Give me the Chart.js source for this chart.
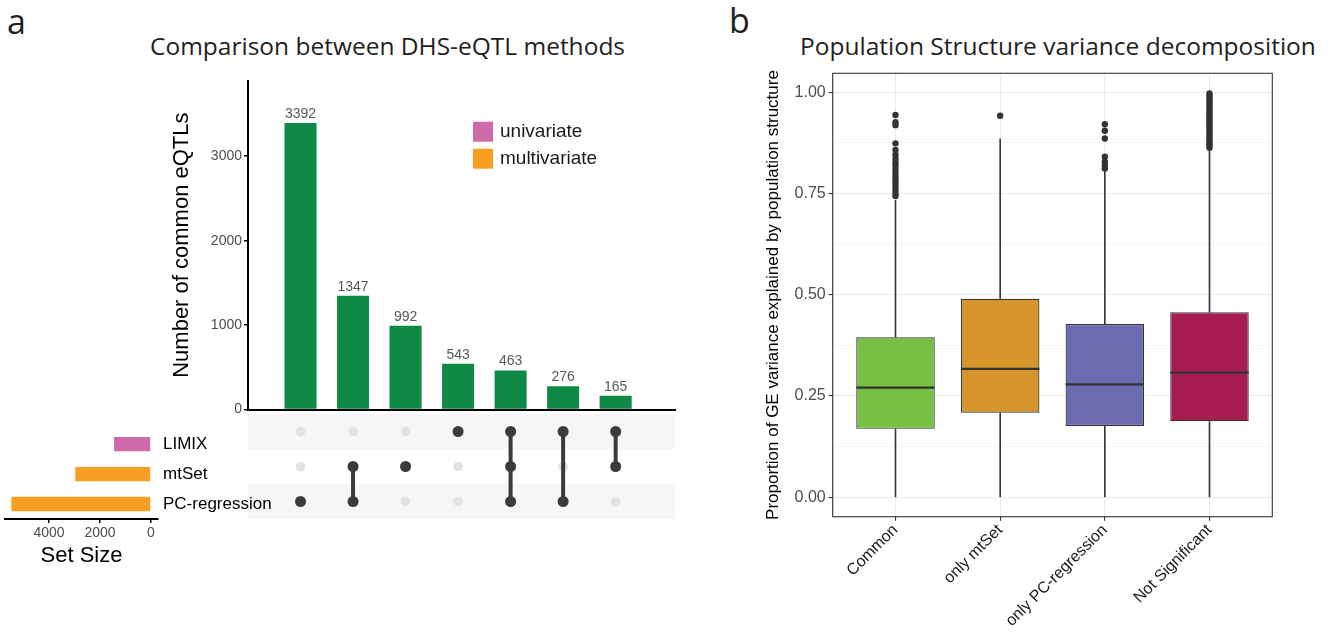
<!DOCTYPE html>
<html>
<head>
<meta charset="utf-8">
<title>DHS-eQTL methods</title>
<script src="https://cdn.jsdelivr.net/npm/chart.js@4.4.1/dist/chart.umd.min.js"></script>
<style>
  html, body { margin: 0; padding: 0; background: #fff; }
  body { width: 1332px; height: 633px; position: relative; overflow: hidden; }
  canvas { position: absolute; }
  .txt { position: absolute; font-family: "Open Sans", sans-serif; color: #231f20; line-height: 1; white-space: nowrap; }
</style>
</head>
<body>
<div class="txt" style="left:7px;top:4px;font-size:34px">a</div>
<div class="txt" style="left:150px;top:34px;font-size:24.5px">Comparison between DHS-eQTL methods</div>
<div class="txt" style="left:729px;top:3px;font-size:34px">b</div>
<div class="txt" style="left:800px;top:34px;font-size:24.5px">Population Structure variance decomposition</div>

<canvas id="barChart"  width="580" height="390" style="left:100px;top:30px"></canvas>
<canvas id="matChart"  width="427" height="105" style="left:248px;top:414px"></canvas>
<canvas id="sizeChart" width="290" height="156" style="left:0;top:414px"></canvas>
<canvas id="boxChart"  width="572" height="573" style="left:760px;top:60px"></canvas>

<script>
/* ---------- panel a : upset ---------- */
const SET_NAMES  = ['LIMIX', 'mtSet', 'PC-regression'];
const SET_SIZES  = [1447, 2967, 5478];
const SET_TYPE   = ['univariate', 'multivariate', 'multivariate'];
const TYPE_NAMES = ['univariate', 'multivariate'];
const TYPE_COLORS = { univariate: '#cc6aaa', multivariate: '#f79f22' };

const COMBO_SETS = [
  ['PC-regression'],
  ['mtSet', 'PC-regression'],
  ['mtSet'],
  ['LIMIX'],
  ['LIMIX', 'mtSet', 'PC-regression'],
  ['LIMIX', 'PC-regression'],
  ['LIMIX', 'mtSet'],
];
const COMBO_COUNTS = [3392, 1347, 992, 543, 463, 276, 165];
const COUNT_TICKS  = [0, 1000, 2000, 3000];
const SIZE_TICKS   = [0, 2000, 4000];

/* ---------- panel b : boxplots ---------- */
const BOX_CATS   = ['Common', 'only mtSet', 'only PC-regression', 'Not Significant'];
const BOX_COLORS = ['#76c043', '#d6952b', '#6a6bb1', '#a81d4f'];
const BOX_LO  = [0, 0, 0, 0];
const BOX_Q1  = [0.169, 0.209, 0.176, 0.188];
const BOX_MED = [0.271, 0.317, 0.279, 0.308];
const BOX_Q3  = [0.395, 0.490, 0.428, 0.457];
const BOX_HI  = [0.734, 0.886, 0.806, 0.860];
const OUT_COMMON = [0.944, 0.926, 0.919, 0.874, 0.858, 0.846, 0.836, 0.827, 0.819, 0.811, 0.802,
                    0.793, 0.785, 0.776, 0.768, 0.759, 0.750, 0.744];
const OUT_MTSET  = [0.942];
const OUT_PCREG  = [0.921, 0.905, 0.886, 0.841, 0.829, 0.820, 0.812];
const OUT_NOTSIG = [0.997, 0.992, 0.987, 0.981, 0.976, 0.970, 0.964, 0.959, 0.953, 0.947, 0.942,
                    0.936, 0.930, 0.925, 0.919, 0.913, 0.907, 0.902, 0.896, 0.890, 0.884, 0.879,
                    0.873, 0.868, 0.863];
const PROP_TICKS = [0, 0.25, 0.5, 0.75, 1];

const FONT = '"Liberation Sans", Arial, Helvetica, sans-serif';
Chart.defaults.font.family = FONT;
Chart.defaults.animation = false;

const noPlugins = { legend: { display: false }, tooltip: { enabled: false } };
const comboX = COMBO_COUNTS.map((_, i) => i + 1);
const setTicks = arr => s => { s.ticks = arr.map(v => ({ value: v })); };
const plain = v => String(v);

// value labels above the intersection bars + type legend
const barLabels = {
  id: 'barLabels',
  afterDatasetsDraw(chart) {
    const { ctx, chartArea } = chart;
    ctx.save();
    ctx.font = '14px ' + FONT;
    ctx.fillStyle = '#595959';
    ctx.textAlign = 'center';
    chart.getDatasetMeta(0).data.forEach((bar, i) => {
      ctx.fillText(COMBO_COUNTS[i], bar.x, bar.y - 5);
    });
    ctx.textAlign = 'left';
    ctx.textBaseline = 'middle';
    ctx.font = '19px ' + FONT;
    TYPE_NAMES.forEach((name, i) => {
      const x = chartArea.left + 225, y = chartArea.top + 41 + i * 27;
      ctx.fillStyle = TYPE_COLORS[name];
      ctx.fillRect(x, y, 20, 20);
      ctx.fillStyle = '#1a1a1a';
      ctx.fillText(name, x + 27, y + 10);
    });
    ctx.restore();
  }
};

new Chart(document.getElementById('barChart'), {
  type: 'bar',
  data: {
    datasets: [{
      data: COMBO_COUNTS.map((v, i) => ({ x: comboX[i], y: v })),
      backgroundColor: '#0f8a46',
      barPercentage: 0.61,
      categoryPercentage: 1,
    }]
  },
  options: {
    responsive: false,
    layout: { autoPadding: false, padding: { top: 50.7, right: 5, bottom: 8.3, left: 0 } },
    plugins: noPlugins,
    scales: {
      x: {
        type: 'linear', min: 0, max: 8.13, offset: false,
        afterBuildTicks: setTicks(comboX),
        grid: { display: false, offset: false },
        ticks: { display: false },
        border: { color: '#000', width: 2 },
        afterFit: s => { s.height = 0; },
      },
      y: {
        min: 0, max: 3894,
        afterBuildTicks: setTicks(COUNT_TICKS),
        grid: { drawOnChartArea: false, tickLength: 4, color: '#000', lineWidth: 1.5 },
        border: { color: '#000', width: 2 },
        ticks: { color: '#4d4d4d', font: { size: 14 }, padding: 2, callback: plain },
        title: { display: true, text: 'Number of common eQTLs', color: '#000',
                 font: { size: 22 }, padding: { top: 69, bottom: 0 } },
        afterFit: s => { s.width = 148; },
      }
    }
  },
  plugins: [barLabels]
});

// intersection matrix
const onDots = [], offDots = [];
COMBO_SETS.forEach((sets, c) => {
  SET_NAMES.forEach((name, r) => {
    (sets.includes(name) ? onDots : offDots).push({ x: comboX[c], y: r + 1 });
  });
});
const links = COMBO_SETS.map((sets, c) => {
  const rows = sets.map(s => SET_NAMES.indexOf(s) + 1);
  if (rows.length < 2) return null;
  return {
    data: [{ x: comboX[c], y: Math.min(...rows) }, { x: comboX[c], y: Math.max(...rows) }],
    showLine: true, borderColor: '#3b3b3b', borderWidth: 4, pointRadius: 0,
  };
}).filter(Boolean);

const rowShade = {
  id: 'rowShade',
  beforeDatasetsDraw(chart) {
    const { ctx, chartArea: a, scales: { y } } = chart;
    ctx.save();
    ctx.fillStyle = '#f6f6f6';
    SET_NAMES.forEach((_, r) => {
      if (r % 2) return;
      const t = y.getPixelForValue(r + 0.5), b = y.getPixelForValue(r + 1.5);
      ctx.fillRect(a.left, Math.min(t, b), a.width, Math.abs(b - t));
    });
    ctx.restore();
  }
};

new Chart(document.getElementById('matChart'), {
  type: 'scatter',
  data: {
    datasets: [
      { data: onDots, pointRadius: 5.5, backgroundColor: '#3b3b3b', borderWidth: 0 },
      ...links,
      { data: offDots, pointRadius: 4.8, backgroundColor: '#e2e2e2', borderWidth: 0 },
    ]
  },
  options: {
    responsive: false,
    layout: { autoPadding: false, padding: 0 },
    plugins: noPlugins,
    scales: {
      x: { type: 'linear', min: 0, max: 8.13, display: false },
      y: { type: 'linear', min: 0.5, max: 3.5, reverse: true, display: false },
    }
  },
  plugins: [rowShade]
});

// set size bars (left), drawn above the matrix so long labels stay visible
new Chart(document.getElementById('sizeChart'), {
  type: 'bar',
  data: {
    labels: SET_NAMES,
    datasets: [{
      data: SET_SIZES,
      backgroundColor: SET_TYPE.map(t => TYPE_COLORS[t]),
      barPercentage: 0.48,
      categoryPercentage: 1,
    }]
  },
  options: {
    indexAxis: 'y',
    responsive: false,
    layout: { autoPadding: false, padding: { top: 0, right: 0, bottom: 0, left: 5 } },
    plugins: noPlugins,
    scales: {
      x: {
        reverse: true, min: -275, max: 5725,
        afterBuildTicks: setTicks(SIZE_TICKS),
        grid: { drawOnChartArea: false, tickLength: 4, color: '#000', lineWidth: 1.5 },
        border: { color: '#000', width: 2 },
        ticks: { color: '#4d4d4d', font: { size: 14 }, padding: 2, callback: plain },
        title: { display: true, text: 'Set Size', color: '#000', font: { size: 22 },
                 padding: { top: 0, bottom: 1 } },
        afterFit: s => { s.height = 51; },
      },
      y: {
        position: 'right',
        grid: { display: false, drawTicks: false, offset: false },
        border: { display: false },
        ticks: { color: '#000', font: { size: 17 }, padding: 5 },
        afterFit: s => { s.width = 132; },
      }
    }
  }
});

/* ---------- panel b ---------- */
const isMajor = v => Math.abs(v * 4 - Math.round(v * 4)) < 1e-9;
const propGrid = [];
PROP_TICKS.forEach((v, i) => {
  propGrid.push(v);
  if (i < PROP_TICKS.length - 1) propGrid.push((v + PROP_TICKS[i + 1]) / 2);
});
const outliers = [OUT_COMMON, OUT_MTSET, OUT_PCREG, OUT_NOTSIG]
  .flatMap((arr, i) => arr.map(v => ({ x: i + 1, y: v })));

const boxExtras = {
  id: 'boxExtras',
  afterDatasetsDraw(chart) {
    const { ctx, chartArea: a, scales: { y } } = chart;
    ctx.save();
    ctx.strokeStyle = '#333';
    chart.getDatasetMeta(0).data.forEach((bar, i) => {
      ctx.lineWidth = 1.6;
      ctx.beginPath();
      ctx.moveTo(bar.x, y.getPixelForValue(BOX_Q3[i]));
      ctx.lineTo(bar.x, y.getPixelForValue(BOX_HI[i]));
      ctx.moveTo(bar.x, y.getPixelForValue(BOX_Q1[i]));
      ctx.lineTo(bar.x, y.getPixelForValue(BOX_LO[i]));
      ctx.stroke();
      const ym = y.getPixelForValue(BOX_MED[i]);
      ctx.lineWidth = 2.2;
      ctx.beginPath();
      ctx.moveTo(bar.x - bar.width / 2, ym);
      ctx.lineTo(bar.x + bar.width / 2, ym);
      ctx.stroke();
    });
    ctx.lineWidth = 1.1;
    ctx.strokeRect(a.left, a.top, a.width, a.height);
    ctx.restore();
  }
};

new Chart(document.getElementById('boxChart'), {
  type: 'bar',
  data: {
    datasets: [
      {
        type: 'bar',
        data: BOX_CATS.map((_, i) => ({ x: i + 1, y: [BOX_Q1[i], BOX_Q3[i]] })),
        backgroundColor: BOX_COLORS,
        borderColor: '#333',
        borderWidth: 1.2,
        borderSkipped: false,
        barPercentage: 0.75,
        categoryPercentage: 1,
      },
      {
        type: 'scatter',
        data: outliers,
        pointRadius: 3.2,
        backgroundColor: '#333',
        borderWidth: 0,
      }
    ]
  },
  options: {
    responsive: false,
    layout: { autoPadding: false, padding: { top: 13.3, right: 59.7, bottom: 0, left: 0 } },
    plugins: noPlugins,
    scales: {
      x: {
        type: 'linear', min: 0.4, max: 4.6, offset: false,
        afterBuildTicks: setTicks(BOX_CATS.map((_, i) => i + 1)),
        ticks: {
          callback: v => BOX_CATS[Math.round(v) - 1],
          autoSkip: false, minRotation: 45, maxRotation: 45,
          color: '#1a1a1a', font: { size: 16 }, padding: 0,
        },
        grid: { offset: false, color: '#ebebeb', lineWidth: 1.1, tickColor: '#333', tickLength: 4, tickWidth: 1.1 },
        border: { display: false },
        afterFit: s => { s.height = 116.3; },
      },
      y: {
        min: -0.048, max: 1.047,
        afterBuildTicks: setTicks(propGrid),
        ticks: {
          callback: v => isMajor(v) ? v.toFixed(2) : '',
          color: '#4d4d4d', font: { size: 16 }, padding: 3,
        },
        grid: {
          color: '#ebebeb',
          lineWidth: c => isMajor(c.tick.value) ? 1.1 : 0.55,
          tickColor: c => isMajor(c.tick.value) ? '#333' : 'rgba(0,0,0,0)',
          tickLength: 4,
        },
        border: { display: false },
        title: {
          display: true,
          text: 'Proportion of GE variance explained by population structure',
          color: '#000', font: { size: 17 }, padding: { top: 3, bottom: 0 },
        },
        afterFit: s => { s.width = 72.7; },
      }
    }
  },
  plugins: [boxExtras]
});
</script>
</body>
</html>
